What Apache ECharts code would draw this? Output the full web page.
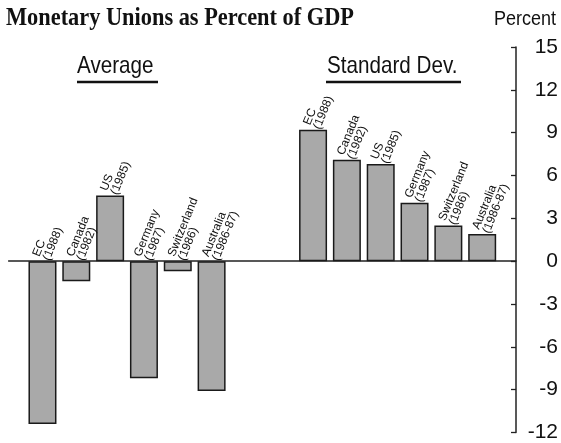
<!DOCTYPE html>
<html>
<head>
<meta charset="utf-8">
<style>
  html, body { margin: 0; padding: 0; background: #fff; }
  #chart { width: 561px; height: 443px; }
</style>
<script src="https://cdn.jsdelivr.net/npm/echarts@6/dist/echarts.min.js"></script>
</head>
<body>
<div id="chart"></div>
<script>
// ---- data ----
const countries = ['EC', 'Canada', 'US', 'Germany', 'Switzerland', 'Australia'];
const years = ['(1988)', '(1982)', '(1985)', '(1987)', '(1986)', '(1986-87)'];
const averageValues = [-11.4, -1.4, 4.6, -8.2, -0.7, -9.1];
const stdDevValues = [9.2, 7.1, 6.8, 4.1, 2.5, 1.9];
const yMin = -12, yMax = 15, yInterval = 3;
const groupTitles = ['Average', 'Standard Dev.'];
const chartTitle = 'Monetary Unions as Percent of GDP';
const unitLabel = 'Percent';

// ---- build category slots: pad, 6 average, 2 gap, 6 std dev, pad ----
const labels = countries.map((c, i) => c + '\n' + years[i]);
const categories = [''].concat(labels, ['', ''], labels, ['']);
const values = [null].concat(averageValues, [null, null], stdDevValues, [null]);
const labelBase = values.map(v => (v === null ? null : Math.max(0, v)));

const SANS = "'Liberation Sans', Arial, sans-serif";

const chart = echarts.init(document.getElementById('chart'), null, { renderer: 'canvas' });
chart.setOption({
  animation: false,
  backgroundColor: '#fff',
  grid: { left: 8.65, right: 44.6, top: 47, bottom: 9, containLabel: false },
  xAxis: {
    type: 'category',
    data: categories,
    boundaryGap: false,
    axisLine: { onZero: true, lineStyle: { color: '#222', width: 1.5 } },
    axisTick: { show: false },
    axisLabel: { show: false },
    splitLine: { show: false }
  },
  yAxis: {
    type: 'value',
    position: 'right',
    min: yMin, max: yMax, interval: yInterval,
    axisLine: { show: true, lineStyle: { color: '#222', width: 1.5 } },
    axisTick: { show: true, inside: true, length: 5, lineStyle: { color: '#222', width: 1.3 } },
    axisLabel: {
      color: '#111', fontFamily: SANS, fontSize: 21,
      align: 'right', margin: 42
    },
    splitLine: { show: false }
  },
  series: [
    {
      type: 'bar',
      data: values,
      barWidth: 28,
      itemStyle: { color: '#a9a9a9', borderColor: '#1a1a1a', borderWidth: 1.5 },
      z: 2
    },
    {
      type: 'bar',
      data: labelBase,
      barWidth: 28,
      barGap: '-100%',
      itemStyle: { color: 'rgba(0,0,0,0)' },
      silent: true,
      z: 3,
      label: {
        show: true,
        position: 'top',
        distance: 6,
        rotate: 68,
        align: 'left',
        verticalAlign: 'middle',
        offset: [-3, 0],
        color: '#111',
        fontFamily: SANS,
        fontSize: 12,
        lineHeight: 11,
        formatter: p => categories[p.dataIndex]
      }
    }
  ],
  graphic: [
    {
      type: 'text', left: 6, top: 5, scaleX: 0.86,
      style: { text: chartTitle, fill: '#111', font: "bold 26px 'Liberation Serif', 'Times New Roman', serif" }
    },
    {
      type: 'text', left: 494, top: 9, scaleX: 0.9,
      style: { text: unitLabel, fill: '#111', font: "20px " + SANS }
    },
    {
      type: 'text', left: 77, top: 54, scaleX: 0.86,
      style: { text: groupTitles[0], fill: '#111', font: "24px " + SANS }
    },
    {
      type: 'line', shape: { x1: 77, y1: 82, x2: 158, y2: 82 },
      style: { stroke: '#111', lineWidth: 2.5 }
    },
    {
      type: 'text', left: 327, top: 54, scaleX: 0.86,
      style: { text: groupTitles[1], fill: '#111', font: "24px " + SANS }
    },
    {
      type: 'line', shape: { x1: 326, y1: 82, x2: 461, y2: 82 },
      style: { stroke: '#111', lineWidth: 2.5 }
    }
  ]
});
</script>
</body>
</html>
